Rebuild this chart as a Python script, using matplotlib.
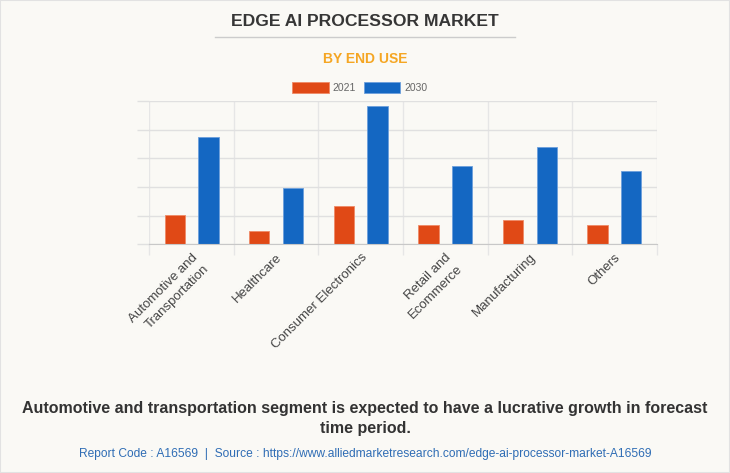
import numpy as np
import matplotlib.pyplot as plt
from matplotlib.patches import Patch
from matplotlib.lines import Line2D

plt.rcParams['font.family'] = ['Liberation Sans', 'DejaVu Sans']

# data (no axis labels shown, so units are grid steps)
segments = ['Automotive and\nTransportation', 'Healthcare', 'Consumer Electronics',
            'Retail and\nEcommerce', 'Manufacturing', 'Others']
vals_2021 = [1.01, 0.47, 1.34, 0.68, 0.86, 0.68]
vals_2030 = [3.73, 1.95, 4.82, 2.73, 3.38, 2.56]
years = ['2021', '2030']
colors = ['#E04916', '#1467C2']

bg = '#FAF9F5'
fig = plt.figure(figsize=(7.3, 4.73), dpi=100, facecolor=bg)
fig.patches.append(plt.Rectangle((0, 0), 1, 1, transform=fig.transFigure,
                                 fill=False, edgecolor='#e2e2e2', lw=1.5))

ax = fig.add_axes([149.3 / 730, 1 - 244.3 / 473, 507.4 / 730, 143.3 / 473])
ax.set_facecolor(bg)

x = np.arange(len(segments))
ax.bar(x - 0.2, vals_2021, width=0.24, color=colors[0], edgecolor='#ef8a66', lw=0.6, zorder=3)
ax.bar(x + 0.2, vals_2030, width=0.24, color=colors[1], edgecolor='#6c9fdc', lw=0.6, zorder=3)

ax.set_xlim(-0.5, len(segments) - 0.5)
ax.set_ylim(0, 5)

# gridlines + ticks
ax.set_yticks(np.arange(0, 6, 1))
ax.set_yticklabels([])
ax.tick_params(axis='y', length=9, color='#e0e0e0', width=1)
ax.yaxis.grid(True, color='#e0e0e0', lw=1, zorder=0)

ax.set_xticks(x)
ax.set_xticklabels(segments, rotation=45, ha='right', va='top', rotation_mode='anchor',
                   fontsize=9.5, color='#444444', linespacing=1.45)
ax.tick_params(axis='x', length=0, pad=5)
ax.set_xticks(np.arange(-0.5, len(segments), 1), minor=True)
ax.tick_params(axis='x', which='minor', length=8, color='#e6e6e6', width=1)
ax.xaxis.grid(True, which='minor', color='#e6e6e6', lw=1, zorder=0)

for s in ['top', 'right', 'left']:
    ax.spines[s].set_visible(False)
ax.spines['bottom'].set_color('#c8c8c8')
ax.spines['bottom'].set_zorder(4)

# titles
fig.text(0.5, 1 - 21 / 473, 'EDGE AI PROCESSOR MARKET', ha='center', va='center',
         fontsize=12.6, fontweight='bold', color='#363636')
fig.add_artist(Line2D([215 / 730, 515 / 730], [1 - 37.3 / 473] * 2, color='#cccccc', lw=1))
fig.text(0.5, 1 - 58.7 / 473, 'BY END USE', ha='center', va='center',
         fontsize=10, fontweight='bold', color='#F5A623')

handles = [Patch(facecolor=c, edgecolor=e, lw=0.6) for c, e in zip(colors, ['#ef8a66', '#6c9fdc'])]
fig.legend(handles, years, loc='center', bbox_to_anchor=(360 / 730, 1 - 87.5 / 473), ncol=2,
           frameon=False, fontsize=7.5, labelcolor='#666666', handlelength=3.5,
           handleheight=1.25, handletextpad=0.4, columnspacing=0.75, borderpad=0)

# caption + footer
fig.text(0.5, 1 - 408 / 473, 'Automotive and transportation segment is expected to have a lucrative growth in forecast',
         ha='center', va='center', fontsize=11.5, fontweight='bold', color='#333333')
fig.text(0.5, 1 - 428 / 473, 'time period.', ha='center', va='center',
         fontsize=11.5, fontweight='bold', color='#333333')
fig.text(0.5, 1 - 454 / 473,
         'Report Code : A16569  |  Source : https://www.alliedmarketresearch.com/edge-ai-processor-market-A16569',
         ha='center', va='center', fontsize=8.65, color='#2F6DB5')

fig.savefig('out.png', dpi=100, facecolor=bg)
